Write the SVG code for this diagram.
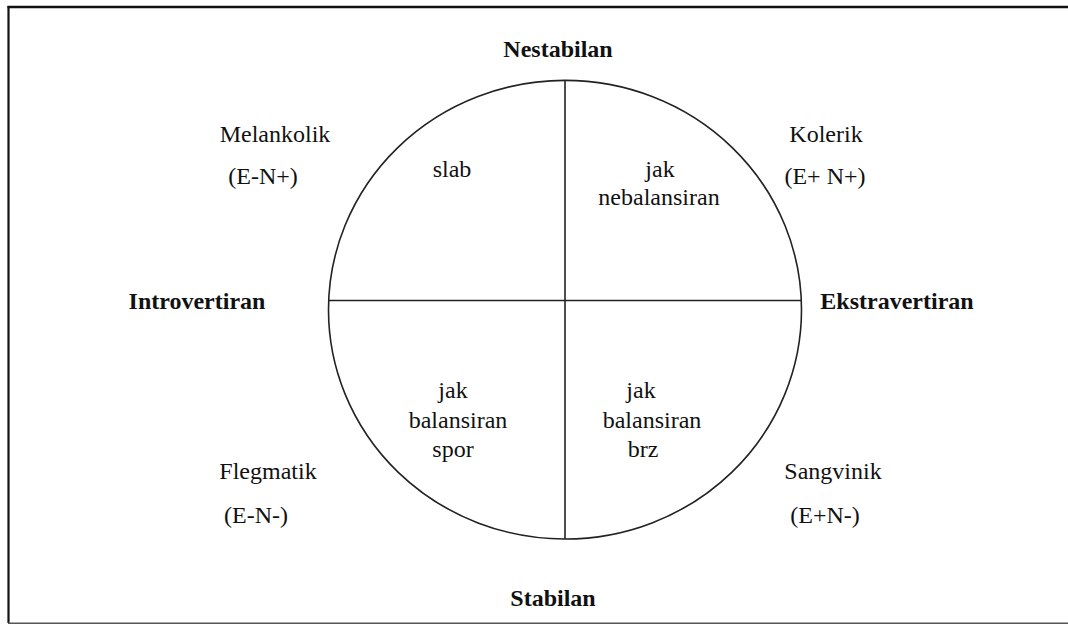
<svg xmlns="http://www.w3.org/2000/svg" width="1068" height="624" viewBox="0 0 1068 624">
<style>
  text { font-family: "Liberation Serif", "Times New Roman", serif; font-size: 24px; fill: #111; text-anchor: middle; }
  .b { font-weight: bold; }
  .ln { stroke: #222; stroke-width: 1.6; fill: none; }
</style>
<rect width="1068" height="624" fill="#fff"/>
<g id="frame">
  <line x1="7.5" y1="7" x2="1068" y2="7" stroke="#111" stroke-width="2.5"/>
  <line x1="8.5" y1="6" x2="8.5" y2="623" stroke="#111" stroke-width="2.2"/>
  <line x1="8" y1="623.2" x2="1068" y2="623.2" stroke="#555" stroke-width="1.6"/>
</g>
<g id="connectors">
  <ellipse class="ln" cx="565" cy="309.7" rx="236.5" ry="229.3"/>
  <line class="ln" x1="565" y1="80.4" x2="565" y2="539"/>
  <line class="ln" x1="328.7" y1="300.5" x2="801.3" y2="300.5"/>
</g>
<g id="axis-top"><text class="b" x="558" y="57">Nestabilan</text></g>
<g id="axis-bottom"><text class="b" x="553" y="606">Stabilan</text></g>
<g id="axis-left"><text class="b" x="197" y="309">Introvertiran</text></g>
<g id="axis-right"><text class="b" x="897" y="309">Ekstravertiran</text></g>
<g id="melankolik">
  <text x="275" y="142">Melankolik</text>
  <text x="263" y="184">(E-N+)</text>
</g>
<g id="kolerik">
  <text x="826" y="142">Kolerik</text>
  <text x="825" y="184">(E+ N+)</text>
</g>
<g id="flegmatik">
  <text x="268" y="479">Flegmatik</text>
  <text x="256" y="523">(E-N-)</text>
</g>
<g id="sangvinik">
  <text x="833" y="479">Sangvinik</text>
  <text x="825" y="523">(E+N-)</text>
</g>
<g id="q-top-left"><text x="452" y="177">slab</text></g>
<g id="q-top-right">
  <text x="660" y="177">jak</text>
  <text x="659" y="205">nebalansiran</text>
</g>
<g id="q-bottom-left">
  <text x="453" y="398">jak</text>
  <text x="458" y="428">balansiran</text>
  <text x="453" y="457">spor</text>
</g>
<g id="q-bottom-right">
  <text x="641" y="398">jak</text>
  <text x="652" y="428">balansiran</text>
  <text x="643" y="457">brz</text>
</g>
</svg>
